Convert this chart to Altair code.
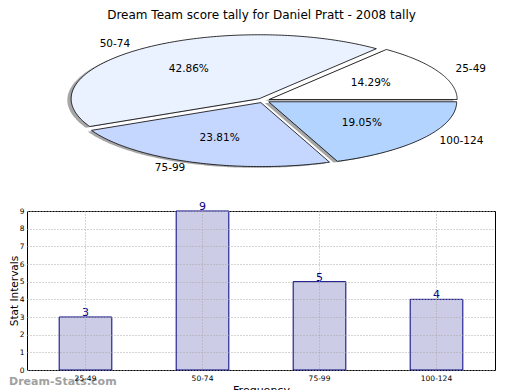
import altair as alt
import numpy as np
import pandas as pd

# ---------------- data ----------------
categories = ["25-49", "50-74", "75-99", "100-124"]
counts = [3, 9, 5, 4]
slice_colors = ["#ffffff", "#eaf1ff", "#c6d7ff", "#b3d4ff"]
y_ticks = [0, 1, 2, 3, 4, 5, 6, 7, 8, 9]
chart_title = "Dream Team score tally for Daniel Pratt - 2008 tally"
x_title = "Frequency"
y_title = "Stat Intervals"
watermark = "Dream-Stats.com"

FONT = "DejaVu Sans"
EXPLODE = 0.035
SHADOW_DX, SHADOW_DY = -0.02, -0.02

# ---------------- pie geometry (unit circle, ellipse comes from the scales) -------------
total = float(sum(counts))
poly_rows, label_rows = [], []
start = 0.0
for cat, cnt in zip(categories, counts):
    frac = cnt / total
    a0, a1 = 2 * np.pi * start, 2 * np.pi * (start + frac)
    mid = 0.5 * (a0 + a1)
    cx, cy = EXPLODE * np.cos(mid), EXPLODE * np.sin(mid)
    angles = np.linspace(a0, a1, max(int(frac * 400), 12))
    xs = np.concatenate([[cx], cx + np.cos(angles), [cx]])
    ys = np.concatenate([[cy], cy + np.sin(angles), [cy]])
    for i, (px, py) in enumerate(zip(xs, ys)):
        poly_rows.append({"cat": cat, "i": i, "x": px, "y": py,
                          "sx": px + SHADOW_DX, "sy": py + SHADOW_DY})
    label_rows.append({"cat": cat, "pct": f"{100 * frac:.2f}%",
                       "lx": cx + 1.1 * np.cos(mid), "ly": cy + 1.1 * np.sin(mid),
                       "px": cx + 0.6 * np.cos(mid), "py": cy + 0.6 * np.sin(mid),
                       "side": "left" if np.cos(mid) > 0 else "right"})
    start += frac

poly_df = pd.DataFrame(poly_rows)
lab_df = pd.DataFrame(label_rows)

PIE_W, PIE_H = 468, 190
px_scale = alt.Scale(domain=[-1.2566, 1.2328], nice=False, zero=False)
py_scale = alt.Scale(domain=[-1.5391, 1.4297], nice=False, zero=False)

poly = alt.Chart(poly_df)
layers = []
for cat in categories:
    layers.append(
        poly.transform_filter(alt.datum.cat == cat)
        .mark_line(fill="#4d4d4d", fillOpacity=0.5, strokeOpacity=0)
        .encode(x=alt.X("sx:Q", scale=px_scale, axis=None),
                y=alt.Y("sy:Q", scale=py_scale, axis=None),
                order="i:Q")
    )
for cat, col in zip(categories, slice_colors):
    layers.append(
        poly.transform_filter(alt.datum.cat == cat)
        .mark_line(fill=col, stroke="black", strokeWidth=0.8)
        .encode(x=alt.X("x:Q", scale=px_scale, axis=None),
                y=alt.Y("y:Q", scale=py_scale, axis=None),
                order="i:Q")
    )
lab = alt.Chart(lab_df)
for side in ["left", "right"]:
    layers.append(
        lab.transform_filter(alt.datum.side == side)
        .mark_text(align=side, baseline="middle", font=FONT, fontSize=10.5, color="black")
        .encode(x=alt.X("lx:Q", scale=px_scale, axis=None),
                y=alt.Y("ly:Q", scale=py_scale, axis=None),
                text="cat:N")
    )
layers.append(
    lab.mark_text(align="center", baseline="middle", font=FONT, fontSize=10.5, color="black")
    .encode(x=alt.X("px:Q", scale=px_scale, axis=None),
            y=alt.Y("py:Q", scale=py_scale, axis=None),
            text="pct:N")
)
layers.append(
    alt.Chart(pd.DataFrame({"t": [chart_title]}))
    .mark_text(align="center", baseline="alphabetic", font=FONT, fontSize=12, color="black")
    .encode(x=alt.value(234.5), y=alt.value(9.5), text="t:N")
)
pie = alt.layer(*layers).properties(
    width=PIE_W, height=PIE_H, view=alt.ViewBackground(strokeOpacity=0)
)

# ---------------- bar chart ----------------
bar_df = pd.DataFrame({"cat": categories, "count": counts})
base = alt.Chart(bar_df)
grid_color = "#a8a8a8"
bx = alt.X(
    "cat:N", sort=categories,
    scale=alt.Scale(paddingInner=0.55, paddingOuter=0.275),
    axis=alt.Axis(title=x_title, labelAngle=0, labelFont=FONT, labelFontSize=7.5,
                  labelColor="black", labelPadding=4, ticks=False, domain=False,
                  grid=True, gridDash=[1, 2], gridColor=grid_color, bandPosition=0.5,
                  titleFont=FONT, titleFontSize=11, titleFontWeight="normal",
                  titleColor="black", titlePadding=3, zindex=1),
)
by = alt.Y(
    "count:Q", scale=alt.Scale(domain=[0, 9], nice=False),
    axis=alt.Axis(title=y_title, values=y_ticks, labelOverlap=False,
                  labelFlush=False, labelFont=FONT, labelFontSize=7.5,
                  labelColor="black", labelPadding=3, ticks=False, domain=False,
                  grid=True, gridDash=[1, 2], gridColor=grid_color,
                  titleFont=FONT, titleFontSize=10.5, titleFontWeight="normal",
                  titleColor="black", titleX=-10, titleY=79.5, titleAngle=270,
                  titleBaseline="alphabetic", titleAlign="center", zindex=1),
)
bars = base.mark_bar(fill="#ccccE6", stroke="#000080", strokeWidth=1).encode(x=bx, y=by)
vals = base.mark_text(color="#000080", font=FONT, fontSize=11, baseline="alphabetic", dy=-1).encode(
    x=bx, y=by, text="count:Q"
)
wm = alt.Chart(pd.DataFrame({"t": [watermark]})).mark_text(
    align="left", baseline="middle", font=FONT, fontSize=11, fontWeight="bold", color="#a0a0a0"
).encode(x=alt.value(-18), y=alt.value(171), text="t:N")

bar_chart = alt.layer(wm, bars, vals).properties(
    width=468, height=159, view=alt.ViewBackground(stroke="black", strokeWidth=1)
)

chart = alt.vconcat(pie, bar_chart, spacing=12, bounds="flush").properties(padding=0)
chart.save("out.html", embed_options={"renderer": "svg", "actions": False})
